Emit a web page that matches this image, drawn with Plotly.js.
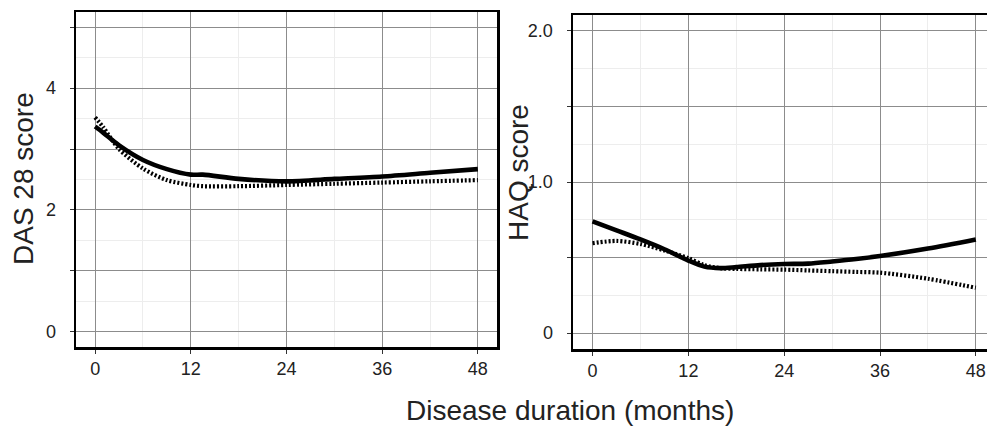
<!DOCTYPE html>
<html>
<head>
<meta charset="utf-8">
<script src="https://cdn.plot.ly/plotly-3.0.1.min.js"></script>
<style>html,body{margin:0;padding:0;background:#fff}#chart{width:987px;height:429px}</style>
</head>
<body>
<div id="chart"></div>
<script>
// Disease duration (months)
const dasMonths = [0, 1, 3, 6, 9, 12, 13.5, 18, 24, 30, 36, 42, 48];
const dasSolid  = [3.37, 3.27, 3.06, 2.82, 2.67, 2.58, 2.58, 2.51, 2.47, 2.51, 2.55, 2.61, 2.67];
const dasDotted = [3.52, 3.36, 3.00, 2.68, 2.49, 2.41, 2.39, 2.39, 2.41, 2.43, 2.45, 2.47, 2.49];

const haqMonths = [0, 3, 6, 9, 12, 14, 16, 18, 21, 24, 27, 30, 33, 36, 42, 48];
const haqSolid  = [0.74, 0.68, 0.62, 0.555, 0.48, 0.44, 0.43, 0.437, 0.45, 0.457, 0.46, 0.474, 0.49, 0.51, 0.56, 0.62];
const haqDotted = [0.595, 0.61, 0.59, 0.547, 0.496, 0.45, 0.43, 0.425, 0.422, 0.42, 0.415, 0.41, 0.405, 0.40, 0.36, 0.30];

const xTicks = [0, 12, 24, 36, 48];
const xTickText = ["0", "12", "24", "36", "48"];
const xMinor = [6, 18, 30, 42];
const dasTicks = [0, 1, 2, 3, 4, 5];
const dasTickText = ["0", "", "2", "", "4", ""];
const dasMinor = [0.5, 1.5, 2.5, 3.5, 4.5];
const haqTicks = [0, 0.5, 1, 1.5, 2];
const haqTickText = ["0", "", "1.0", "", "2.0"];
const haqMinor = [0.25, 0.75, 1.25, 1.75];

const W = 987, H = 429;
const font = "Liberation Sans, Arial, Helvetica, sans-serif";

function lineTrace(x, y, dotted, xa, ya) {
  return {
    x: x, y: y, xaxis: xa, yaxis: ya, mode: "lines", type: "scatter",
    line: {color: "#000", width: dotted ? 4.2 : 4.6, shape: "spline", smoothing: 0.8, dash: dotted ? "2px,2px" : "solid"},
    hoverinfo: "skip", showlegend: false
  };
}

const data = [
  lineTrace(dasMonths, dasDotted, true, "x", "y"),
  lineTrace(dasMonths, dasSolid, false, "x", "y"),
  lineTrace(haqMonths, haqDotted, true, "x2", "y2"),
  lineTrace(haqMonths, haqSolid, false, "x2", "y2")
];

const gridMajor = "#8c8c8c", gridMinor = "#ededed";
function xAxis(domain, range, anchor, mirror) {
  return {
    domain: domain, range: range, anchor: anchor,
    tickmode: "array", tickvals: xTicks, ticktext: xTickText,
    ticks: "outside", ticklen: 4, tickwidth: 1, tickcolor: "#333",
    ticklabelstandoff: 0,
    showgrid: true, gridcolor: gridMajor, gridwidth: 1,
    minor: {tickmode: "array", tickvals: xMinor, showgrid: true, gridcolor: gridMinor, gridwidth: 1, ticks: ""},
    showline: true, linecolor: "#000", linewidth: 2.5, mirror: mirror,
    zeroline: false, tickfont: {family: font, size: 18, color: "#222"}, fixedrange: true
  };
}
function yAxis(domain, range, anchor, vals, text, minor, mirror) {
  return {
    domain: domain, range: range, anchor: anchor,
    tickmode: "array", tickvals: vals, ticktext: text,
    ticks: "outside", ticklen: 4, tickwidth: 1, tickcolor: "#333",
    ticklabelstandoff: 10,
    showgrid: true, gridcolor: gridMajor, gridwidth: 1,
    minor: {tickmode: "array", tickvals: minor, showgrid: true, gridcolor: gridMinor, gridwidth: 1, ticks: ""},
    showline: true, linecolor: "#000", linewidth: 2.5, mirror: mirror,
    zeroline: false, tickfont: {family: font, size: 18, color: "#222"}, fixedrange: true
  };
}

const layout = {
  width: W, height: H,
  margin: {l: 0, r: 0, t: 0, b: 0},
  paper_bgcolor: "#fff", plot_bgcolor: "#fff",
  showlegend: false,
  xaxis: xAxis([76 / W, 497 / W], [-2.4, 50.4], "y", true),
  yaxis: yAxis([1 - 347 / H, 1 - 12 / H], [-0.25, 5.25], "x", dasTicks, dasTickText, dasMinor, true),
  xaxis2: xAxis([573 / W, 1], [-2.45, 49.4], "y2", true),
  yaxis2: yAxis([1 - 349 / H, 1 - 15 / H], [-0.105, 2.105], "x2", haqTicks, haqTickText, haqMinor, false),
  annotations: [
    {text: "DAS 28 score", xref: "paper", yref: "paper", x: 23 / W, y: 1 - 179 / H, textangle: -90,
     showarrow: false, xanchor: "center", yanchor: "middle", font: {family: font, size: 28, color: "#222"}},
    {text: "HAQ score", xref: "paper", yref: "paper", x: 518 / W, y: 1 - 173 / H, textangle: -90,
     showarrow: false, xanchor: "center", yanchor: "middle", font: {family: font, size: 28, color: "#222"}},
    {text: "Disease duration (months)", xref: "paper", yref: "paper", x: 570 / W, y: 1 - 410 / H,
     showarrow: false, xanchor: "center", yanchor: "middle", font: {family: font, size: 28, color: "#222"}}
  ]
};

Plotly.newPlot("chart", data, layout, {staticPlot: true, displayModeBar: false});
</script>
</body>
</html>
